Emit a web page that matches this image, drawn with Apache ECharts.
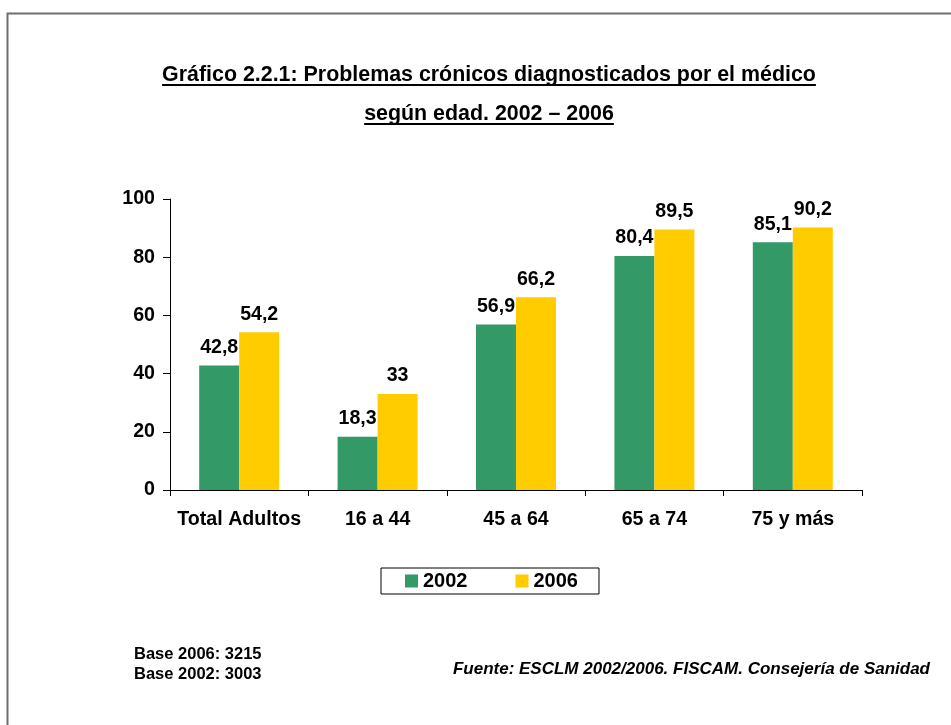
<!DOCTYPE html>
<html>
<head>
<meta charset="utf-8">
<title>Problemas crónicos diagnosticados por el médico</title>
<script src="https://cdn.jsdelivr.net/npm/echarts@6/dist/echarts.min.js"></script>
<style>
  html, body { margin: 0; padding: 0; background: #fff; }
  #wrap { position: relative; width: 951px; height: 725px; }
  #chart { position: absolute; left: 0; top: 0; width: 951px; height: 725px; }
  .titulo {
    position: absolute; left: 0; width: 978px; text-align: center;
    font-family: 'Liberation Sans', Arial, sans-serif; font-weight: bold;
    font-size: 21.4px; color: #000; text-decoration: underline;
    text-decoration-thickness: 2px; text-underline-offset: 3px;
    text-decoration-skip-ink: none;
    line-height: 24px; z-index: 2;
  }
</style>
</head>
<body>
<div id="wrap">
  <div id="chart"></div>
  <div class="titulo" style="top:62px">Gráfico 2.2.1: Problemas crónicos diagnosticados por el médico</div>
  <div class="titulo" style="top:101px">según edad. 2002 – 2006</div>
</div>
<script>
// datos del gráfico
const categorias = ['Total Adultos', '16 a 44', '45 a 64', '65 a 74', '75 y más'];
const serie2002 = [42.8, 18.3, 56.9, 80.4, 85.1];
const serie2006 = [54.2, 33, 66.2, 89.5, 90.2];
const nombresSeries = ['2002', '2006'];
const notasBase = ['Base 2006: 3215', 'Base 2002: 3003'];
const fuente = 'Fuente: ESCLM 2002/2006. FISCAM. Consejería de Sanidad';

const fuenteTexto = "'Liberation Sans', Arial, sans-serif";
const colores = ['#339966', '#FFCC00'];
const tamLetra = 19.6;

// etiqueta con coma decimal
function conComa(p) {
  return String(p.value).replace('.', ',');
}

const chartDom = document.getElementById('chart');
const myChart = echarts.init(chartDom, null, { renderer: 'canvas' });

const option = {
  backgroundColor: '#fff',
  animation: false,
  color: colores,
  textStyle: { fontFamily: fuenteTexto },
  grid: {
    left: 170,
    right: 89,
    top: 199,
    bottom: 235,
    containLabel: false
  },
  legend: {
    data: nombresSeries,
    left: 381,
    top: 568,
    orient: 'horizontal',
    icon: 'rect',
    itemWidth: 13,
    itemHeight: 13,
    itemGap: 48,
    padding: [3, 21, 3, 24],
    borderColor: '#000',
    borderWidth: 1,
    textStyle: {
      fontFamily: fuenteTexto,
      fontWeight: 'bold',
      fontSize: 20,
      color: '#000',
      lineHeight: 20
    }
  },
  xAxis: {
    type: 'category',
    data: categorias,
    axisLine: { show: true, lineStyle: { color: '#000', width: 1 } },
    axisTick: { show: true, length: 6, alignWithLabel: false, lineStyle: { color: '#000' } },
    axisLabel: {
      margin: 20,
      fontFamily: fuenteTexto,
      fontWeight: 'bold',
      fontSize: tamLetra,
      color: '#000',
      interval: 0
    },
    splitLine: { show: false }
  },
  yAxis: {
    type: 'value',
    min: 0,
    max: 100,
    interval: 20,
    axisLine: { show: true, lineStyle: { color: '#000', width: 1 } },
    axisTick: { show: true, length: 7, lineStyle: { color: '#000' } },
    axisLabel: {
      margin: 15,
      fontFamily: fuenteTexto,
      fontWeight: 'bold',
      fontSize: tamLetra,
      color: '#000',
      padding: [3, 0, 0, 0]
    },
    splitLine: { show: false }
  },
  series: [
    {
      name: nombresSeries[0],
      type: 'bar',
      data: serie2002,
      barWidth: 40,
      barGap: '0%',
      label: {
        show: true,
        position: 'top',
        distance: 8,
        formatter: conComa,
        fontFamily: fuenteTexto,
        fontWeight: 'bold',
        fontSize: tamLetra,
        color: '#000'
      }
    },
    {
      name: nombresSeries[1],
      type: 'bar',
      data: serie2006,
      barWidth: 40,
      barGap: '0%',
      label: {
        show: true,
        position: 'top',
        distance: 8,
        formatter: conComa,
        fontFamily: fuenteTexto,
        fontWeight: 'bold',
        fontSize: tamLetra,
        color: '#000'
      }
    }
  ],
  graphic: [
    {
      // marco de la página
      type: 'rect',
      silent: true,
      shape: { x: 7.5, y: 13.5, width: 1200, height: 1200 },
      style: { fill: 'none', stroke: '#6e6e6e', lineWidth: 2 }
    },
    {
      type: 'text',
      left: 134,
      top: 644,
      style: {
        text: notasBase.join('\n'),
        font: 'bold 16.5px ' + fuenteTexto,
        fill: '#000',
        lineHeight: 20
      }
    },
    {
      type: 'text',
      right: 21,
      top: 661,
      style: {
        text: fuente,
        font: 'italic bold 17px ' + fuenteTexto,
        fill: '#000'
      }
    }
  ]
};

myChart.setOption(option);
window.addEventListener('resize', () => myChart.resize());
</script>
</body>
</html>
